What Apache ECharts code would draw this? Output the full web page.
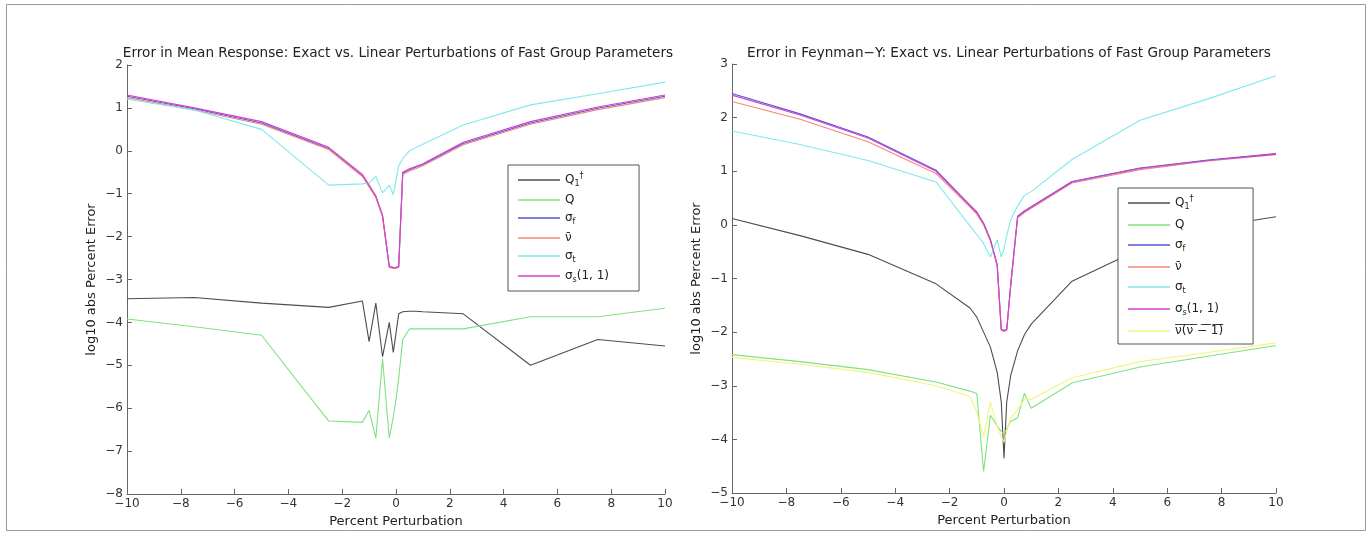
<!DOCTYPE html>
<html>
<head>
<meta charset="utf-8">
<script src="https://cdn.jsdelivr.net/npm/echarts@6/dist/echarts.min.js"></script>
<style>
  html, body { margin: 0; padding: 0; background: #fff; }
  #chart { width: 1372px; height: 534px; }
</style>
</head>
<body>
<div id="chart"></div>
<script>
// Perturbation sample points (percent), shared by both panels
const pert = [-10, -7.5, -5, -2.5, -1.25, -1, -0.75, -0.5, -0.25, -0.1, 0, 0.1, 0.25, 0.5, 0.75, 1, 2.5, 5, 7.5, 10];

// Left panel: log10 |% error| in the mean response
const meanQ1dag = [-3.45, -3.42, -3.55, -3.65, -3.5, -4.45, -3.55, -4.8, -4.0, -4.7, -4.25, -3.8, -3.75, -3.74, -3.74, -3.75, -3.8, -5.0, -4.4, -4.55];
const meanQ     = [-3.92, -4.1, -4.3, -6.3, -6.33, -6.05, -6.7, -4.85, -6.7, -6.2, -5.8, -5.3, -4.4, -4.15, -4.15, -4.15, -4.15, -3.87, -3.87, -3.67];
const meanSigF  = [1.27, 0.98, 0.65, 0.05, -0.58, -0.82, -1.07, -1.52, -2.7, -2.72, -2.72, -2.7, -0.52, -0.44, -0.38, -0.32, 0.17, 0.65, 0.99, 1.27];
const meanNuBar = [1.24, 0.95, 0.62, 0.03, -0.6, -0.84, -1.09, -1.54, -2.72, -2.74, -2.74, -2.72, -0.55, -0.47, -0.41, -0.35, 0.14, 0.62, 0.96, 1.24];
const meanSigT  = [1.2, 0.95, 0.5, -0.8, -0.77, -0.75, -0.6, -0.98, -0.8, -1.02, -0.7, -0.35, -0.18, 0.0, 0.08, 0.15, 0.6, 1.07, 1.33, 1.6];
const meanSigS  = [1.3, 1.0, 0.68, 0.08, -0.55, -0.8, -1.05, -1.5, -2.7, -2.72, -2.72, -2.7, -0.5, -0.42, -0.36, -0.3, 0.2, 0.68, 1.02, 1.3];

// Right panel: log10 |% error| in Feynman-Y
const fyQ1dag = [0.12, -0.2, -0.55, -1.1, -1.55, -1.72, -2.0, -2.28, -2.75, -3.3, -4.35, -3.3, -2.8, -2.35, -2.05, -1.85, -1.05, -0.45, -0.05, 0.15];
const fyQ     = [-2.42, -2.55, -2.7, -2.93, -3.1, -3.15, -4.6, -3.55, -3.75, -3.85, -3.9, -3.8, -3.66, -3.6, -3.14, -3.42, -2.95, -2.65, -2.45, -2.25];
const fySigF  = [2.45, 2.07, 1.64, 1.02, 0.37, 0.24, 0.03, -0.27, -0.74, -1.95, -1.97, -1.95, -1.1, 0.16, 0.26, 0.34, 0.81, 1.06, 1.21, 1.33];
const fyNuBar = [2.3, 1.97, 1.55, 0.96, 0.33, 0.2, 0.0, -0.3, -0.77, -1.97, -1.99, -1.97, -1.13, 0.13, 0.23, 0.31, 0.78, 1.03, 1.19, 1.31];
const fySigT  = [1.75, 1.5, 1.2, 0.8, -0.02, -0.18, -0.35, -0.6, -0.28, -0.6, -0.45, -0.2, 0.1, 0.35, 0.55, 0.62, 1.22, 1.95, 2.35, 2.78];
const fySigS  = [2.42, 2.05, 1.62, 1.0, 0.36, 0.23, 0.02, -0.28, -0.75, -1.95, -1.97, -1.95, -1.1, 0.15, 0.25, 0.33, 0.8, 1.05, 1.2, 1.32];
const fyNuNu1 = [-2.47, -2.6, -2.75, -3.0, -3.2, -3.5, -3.95, -3.3, -3.75, -3.95, -4.05, -3.85, -3.6, -3.45, -3.25, -3.25, -2.85, -2.55, -2.38, -2.2];

// Axis ranges
const xTicks = { min: -10, max: 10, step: 2 };
const yLeft  = { min: -8, max: 2, step: 1 };
const yRight = { min: -5, max: 3, step: 1 };

const titles = [
  'Error in Mean Response: Exact vs. Linear Perturbations of Fast Group Parameters',
  'Error in Feynman\u2212Y: Exact vs. Linear Perturbations of Fast Group Parameters'
];

const colors = {
  q1: '#4d4d4d', q: '#7fe27f', sf: '#5555d6', nu: '#f08878',
  st: '#7ee9ec', ss: '#d23fd2', nn: '#f3f37e'
};

const legendLabels = {
  q1: '{m|Q}{sub|1}{sup|\u2020}',
  q:  '{m|Q}',
  sf: '{m|\u03c3}{sub|f}',
  nu: '{m|\u03bd\u0304}',
  st: '{m|\u03c3}{sub|t}',
  ss: '{m|\u03c3}{sub|s}{m|(1, 1)}',
  nn: '{m|\u03bd\u0305(\u0305\u03bd\u0305 \u0305\u2212\u0305 \u0305\u0031\u0305)\u0305}'
};

const FONT = '"DejaVu Sans", "Liberation Sans", Arial, sans-serif';
const minus = v => String(v).replace('-', '\u2212');

function line(key, ys, panel) {
  return {
    type: 'line',
    name: key,
    xAxisIndex: panel,
    yAxisIndex: panel,
    data: pert.map((x, i) => [x, ys[i]]),
    symbol: 'none',
    showSymbol: false,
    lineStyle: { color: colors[key], width: 1.1 },
    itemStyle: { color: colors[key] },
    animation: false,
    silent: true
  };
}

const axisCommon = {
  axisLine: { show: true, onZero: false, lineStyle: { color: '#666', width: 1 } },
  axisTick: { show: true, inside: true, length: 5, lineStyle: { color: '#666' } },
  axisLabel: { formatter: minus, fontFamily: FONT, fontSize: 12, color: '#333', margin: 4 },
  splitLine: { show: false }
};

function xAxis(panel) {
  return Object.assign({
    type: 'value', gridIndex: panel,
    min: xTicks.min, max: xTicks.max, interval: xTicks.step,
    name: 'Percent Perturbation', nameLocation: 'middle', nameGap: 17,
    nameTextStyle: { fontFamily: FONT, fontSize: 13, color: '#222' }
  }, axisCommon);
}

function yAxis(panel, r) {
  return Object.assign({
    type: 'value', gridIndex: panel,
    min: r.min, max: r.max, interval: r.step,
    name: 'log10 abs Percent Error', nameLocation: 'middle', nameRotate: 90, nameGap: 29,
    nameTextStyle: { fontFamily: FONT, fontSize: 13, color: '#222' }
  }, axisCommon);
}

function legend(keys, left, top, gap, padRight) {
  return {
    data: keys,
    orient: 'vertical',
    left: left, top: top,
    selectedMode: false,
    icon: 'rect',
    itemWidth: 42, itemHeight: 1.3, itemGap: gap,
    padding: [7, padRight, 7, 10],
    backgroundColor: '#fff',
    borderColor: '#555', borderWidth: 1,
    formatter: name => legendLabels[name],
    textStyle: {
      fontFamily: FONT, fontSize: 12, color: '#222',
      rich: {
        m: { fontFamily: FONT, fontSize: 12, color: '#222', lineHeight: 16 },
        sub: { fontFamily: FONT, fontSize: 8, color: '#222', lineHeight: 16, verticalAlign: 'bottom', padding: [6, 0, 0, 0] },
        sup: { fontFamily: FONT, fontSize: 8, color: '#222', lineHeight: 16, verticalAlign: 'top', padding: [0, 0, 6, 0] }
      }
    }
  };
}

const chart = echarts.init(document.getElementById('chart'), null, { renderer: 'canvas' });

chart.setOption({
  backgroundColor: '#fff',
  animation: false,
  title: [
    { text: titles[0], left: 393, top: 41, textAlign: 'center',
      textStyle: { fontFamily: FONT, fontSize: 13.6, fontWeight: 'normal', color: '#222' } },
    { text: titles[1], left: 1004, top: 41, textAlign: 'center',
      textStyle: { fontFamily: FONT, fontSize: 13.6, fontWeight: 'normal', color: '#222' } }
  ],
  grid: [
    { left: 127, top: 65, width: 538, height: 429, containLabel: false, outerBoundsMode: 'none' },
    { left: 732, top: 64, width: 544, height: 429, containLabel: false, outerBoundsMode: 'none' }
  ],
  xAxis: [xAxis(0), xAxis(1)],
  yAxis: [yAxis(0, yLeft), yAxis(1, yRight)],
  legend: [
    legend(['q1', 'q', 'sf', 'nu', 'st', 'ss'], 508, 165, 6, 30),
    legend(['q1', 'q', 'sf', 'nu', 'st', 'ss', 'nn'], 1118, 188, 8, 30)
  ],
  graphic: [
    { type: 'rect', shape: { x: 6.5, y: 4.5, width: 1359, height: 526 },
      style: { fill: 'none', stroke: '#9a9a9a', lineWidth: 1 }, silent: true }
  ],
  series: [
    line('q1', meanQ1dag, 0),
    line('q', meanQ, 0),
    line('sf', meanSigF, 0),
    line('nu', meanNuBar, 0),
    line('st', meanSigT, 0),
    line('ss', meanSigS, 0),
    line('q1', fyQ1dag, 1),
    line('q', fyQ, 1),
    line('sf', fySigF, 1),
    line('nu', fyNuBar, 1),
    line('st', fySigT, 1),
    line('ss', fySigS, 1),
    line('nn', fyNuNu1, 1)
  ]
});
</script>
</body>
</html>
